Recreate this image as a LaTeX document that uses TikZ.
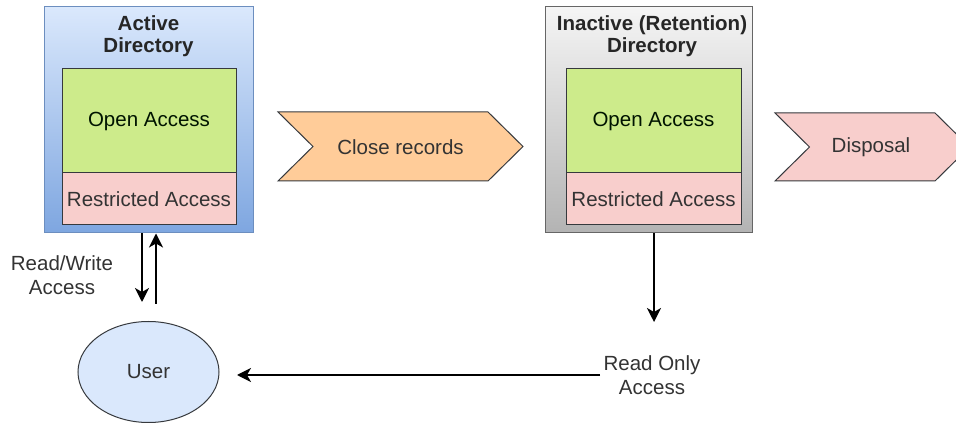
\documentclass[tikz,border=0pt]{standalone}
\usepackage{fontspec}
\setmainfont{Liberation Sans}
\usetikzlibrary{arrows.meta,shapes.geometric}
\definecolor{bluetop}{HTML}{DAE8FC}
\definecolor{bluebot}{HTML}{7EA6E0}
\definecolor{blueedge}{HTML}{6C8EBF}
\definecolor{graytop}{HTML}{F5F5F5}
\definecolor{graybot}{HTML}{B3B3B3}
\definecolor{grayedge}{HTML}{666666}
\definecolor{greenfill}{HTML}{CDEB8B}
\definecolor{pinkfill}{HTML}{F8CECC}
\definecolor{orangefill}{HTML}{FFCC99}
\definecolor{darkedge}{HTML}{36393D}
\definecolor{txt}{HTML}{333333}
\definecolor{userfill}{HTML}{DAE8FC}
\tikzset{
  fnt/.style={font=\fontsize{20.5}{23.5}\selectfont},
  outerbox/.style={draw, line width=1pt, inner sep=0pt, minimum height=226pt},
  actbox/.style={outerbox, draw=blueedge, top color=bluetop, bottom color=bluebot},
  inactbox/.style={outerbox, draw=grayedge, top color=graytop, bottom color=graybot},
  openbox/.style={draw=darkedge, line width=1pt, fill=greenfill, inner sep=0pt, minimum width=175pt, minimum height=104pt, fnt, text=black!80!green!40!black},
  restbox/.style={draw=darkedge, line width=1pt, fill=pinkfill, inner sep=0pt, minimum width=175pt, minimum height=52pt, fnt, text=txt},
  title/.style={font=\fontsize{20.5}{22}\selectfont\bfseries, align=center, text=black!85},
  label/.style={fnt, align=center, text=txt},
  chev/.style={draw=darkedge, line width=1pt},
  arr/.style={line width=1.4pt, -{Stealth[length=14pt,width=14pt,inset=4pt]}}
}
\begin{document}
\begin{tikzpicture}[x=1pt,y=-1pt]
\useasboundingbox (0,0) rectangle (956,427);
\clip (0,0) rectangle (956,427);
\fill[white] (0,0) rectangle (956,427);

% Active directory
\node[actbox, minimum width=209pt] (act) at (148.5,120) {};
\node[title] (acttitle) at (148.5,36) {Active\\Directory};
\node[openbox, minimum width=174pt] (actopen) at (149,121) {Open Access};
\node[restbox, minimum width=174pt] (actrest) at (149,199) {Restricted Access};

% Inactive directory
\node[inactbox, minimum width=207pt] (inact) at (648.5,120) {};
\node[title] (inacttitle) at (652,36) {Inactive (Retention)\\Directory};
\node[openbox] (inopen) at (653.5,121) {Open Access};
\node[restbox] (inrest) at (653.5,199) {Restricted Access};

% Chevrons
\path[chev, fill=orangefill] (278,112) -- (488,112) -- (523,146.5) -- (488,181) -- (278,181) -- (313,146.5) -- cycle;
\node[label] (close) at (400.5,147) {Close records};
\path[chev, fill=pinkfill] (775,113) -- (935,113) -- (969.5,147) -- (935,181) -- (775,181) -- (809.5,147) -- cycle;
\node[label] (disp) at (871,147) {Disposal};

% User
\node[ellipse, draw=darkedge, line width=1pt, fill=userfill, minimum width=141pt, minimum height=101pt, fnt, text=txt] (user) at (148.5,372) {User};

% Labels
\node[label] (rw) at (62,275) {Read/Write\\Access};
\node[label] (ro) at (652,375) {Read Only\\Access};

% Arrows
\coordinate (rwdown) at (142,302);
\coordinate (rwupstart) at (156,304);
\draw[arr] (act.south -| rwdown) -- (rwdown);
\draw[arr] (rwupstart) -- (act.south -| rwupstart);
\coordinate (rodown) at (654,322);
\draw[arr] (inact.south -| rodown) -- (rodown);
\coordinate (rotip) at (237,375);
\draw[arr] (ro.west) -- (rotip);
\end{tikzpicture}
\end{document}
